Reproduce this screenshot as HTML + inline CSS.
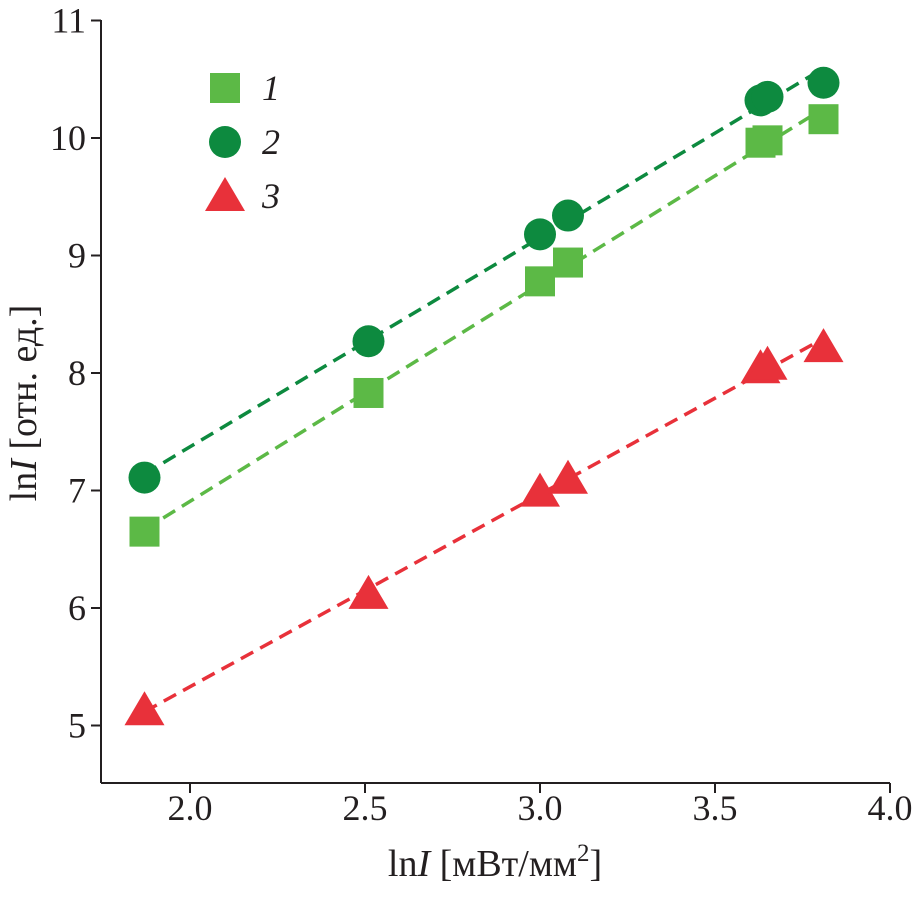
<!DOCTYPE html>
<html><head><meta charset="utf-8"><style>
html,body{margin:0;padding:0;background:#fff;}
svg text{font-family:"Liberation Serif",serif;fill:#231f20;}
</style></head><body>
<svg id="chart" width="921" height="902" viewBox="0 0 921 902" xmlns="http://www.w3.org/2000/svg">
<g id="axes"></g>
<g id="plot"></g>
<g id="legend"></g>
<text x="495" y="876" font-size="38" text-anchor="middle">ln<tspan font-style="italic">I</tspan> [мВт/мм<tspan font-size="25" dy="-15">2</tspan><tspan dy="15">]</tspan></text>
<text transform="translate(36,403) rotate(-90)" font-size="38" text-anchor="middle">ln<tspan font-style="italic">I</tspan> [отн. ед.]</text>
</svg>
<script>
const xVals = [1.87, 2.51, 3.0, 3.08, 3.63, 3.65, 3.81];
const series1 = [6.65, 7.83, 8.78, 8.94, 9.96, 9.98, 10.16];
const series2 = [7.11, 8.27, 9.18, 9.34, 10.32, 10.35, 10.47];
const series3 = [5.13, 6.12, 6.99, 7.10, 8.04, 8.07, 8.22];
const xTicks = [2.0, 2.5, 3.0, 3.5, 4.0];
const xTickLabels = ["2.0", "2.5", "3.0", "3.5", "4.0"];
const yTicks = [5, 6, 7, 8, 9, 10, 11];
const yTickLabels = ["5", "6", "7", "8", "9", "10", "11"];
const legendLabels = ["1", "2", "3"];

const NS = "http://www.w3.org/2000/svg";
const X0 = 101, XEND = 890, YB = 783, YT = 20;
const sx = v => 190 + (v - 2.0) * 350;
const sy = v => 138 - (v - 10) * 117.5;
function mk(tag, attrs, parent) {
  const e = document.createElementNS(NS, tag);
  for (const k in attrs) e.setAttribute(k, attrs[k]);
  parent.appendChild(e); return e;
}
const axes = document.getElementById('axes');
const plot = document.getElementById('plot');
const legend = document.getElementById('legend');
let l = mk('line', {x1: X0, y1: YB, x2: XEND, y2: YB, stroke: '#231f20', 'stroke-width': 2}, axes);


l = mk('line', {x1: X0, y1: YT, x2: X0, y2: YB, stroke: '#231f20', 'stroke-width': 2}, axes);


xTicks.forEach((t, i) => {
  const tk = mk('line', {x1: sx(t), y1: YB, x2: sx(t), y2: YB + 10, stroke: '#231f20', 'stroke-width': 2}, axes);
  
  
  const tx = mk('text', {x: sx(t), y: 820, 'font-size': 36, 'text-anchor': 'middle'}, axes);
  tx.textContent = xTickLabels[i];
  
  
});
yTicks.forEach((t, i) => {
  const tk = mk('line', {x1: X0 - 10, y1: sy(t), x2: X0, y2: sy(t), stroke: '#231f20', 'stroke-width': 2}, axes);
  
  
  const tx = mk('text', {x: 86, y: sy(t) + 12, 'font-size': 36, 'text-anchor': 'end'}, axes);
  tx.textContent = yTickLabels[i];
  
  
});
function fit(xs, ys) {
  const n = xs.length;
  const mx = xs.reduce((a, b) => a + b) / n, my = ys.reduce((a, b) => a + b) / n;
  let num = 0, den = 0;
  for (let i = 0; i < n; i++) { num += (xs[i] - mx) * (ys[i] - my); den += (xs[i] - mx) ** 2; }
  const b = num / den; return [b, my - b * mx];
}
function marker(type, cx, cy, color, parent) {
  let e;
  if (type === 'square') e = mk('rect', {x: cx - 15, y: cy - 15, width: 30, height: 30, fill: color}, parent);
  else if (type === 'circle') e = mk('circle', {cx: cx, cy: cy, r: 16, fill: color}, parent);
  else e = mk('polygon', {points: `${cx},${cy - 19} ${cx + 20},${cy + 15} ${cx - 20},${cy + 15}`, fill: color}, parent);
  return e;
}
const defs = [
  {ys: series1, color: '#5cb946', type: 'square', name: 'series-1'},
  {ys: series2, color: '#0d8a3f', type: 'circle', name: 'series-2'},
  {ys: series3, color: '#e8313a', type: 'triangle', name: 'series-3'}
];
defs.forEach(d => {
  const [b, a] = fit(xVals, d.ys);
  const x1 = xVals[0], x2 = xVals[xVals.length - 1];
  const ln = mk('line', {x1: sx(x1), y1: sy(a + b * x1), x2: sx(x2), y2: sy(a + b * x2), stroke: d.color, 'stroke-width': 3.5, 'stroke-dasharray': '14 8'}, plot);
  
  
});
defs.forEach(d => {
  xVals.forEach((x, i) => {
    const m = marker(d.type, sx(x), sy(d.ys[i]), d.color, plot);
    
    
  });
});
const legY = [88, 142, 196];
defs.forEach((d, i) => {
  const m = marker(d.type, 225, legY[i], d.color, legend);
  
  
  const t = mk('text', {x: 262, y: legY[i] + 12, 'font-size': 36, 'font-style': 'italic'}, legend);
  t.textContent = legendLabels[i];
  
  
});
</script>
</body></html>
